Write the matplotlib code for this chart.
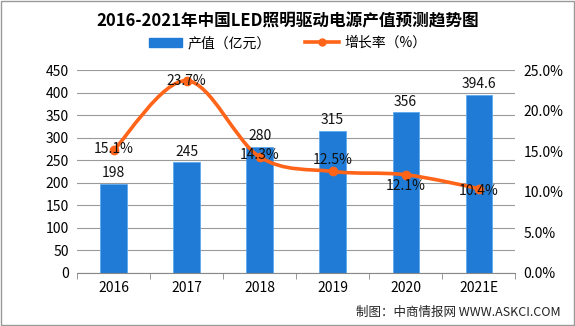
import numpy as np
import matplotlib.pyplot as plt
from matplotlib.path import Path
from matplotlib.patches import PathPatch, Rectangle
from matplotlib.lines import Line2D
from matplotlib.patches import Patch
from matplotlib.ticker import FuncFormatter

plt.rcParams['font.family'] = ['Noto Sans CJK SC', 'DejaVu Sans']

years = ['2016', '2017', '2018', '2019', '2020', '2021E']
output = [198, 245, 280, 315, 356, 394.6]
growth = [15.1, 23.7, 14.3, 12.5, 12.1, 10.4]

bar_color = '#1F7BD6'
line_color = '#FF6419'

fig = plt.figure(figsize=(5.75, 3.26), dpi=100)
ax = fig.add_axes([0.134, 0.163, 0.762, 0.622])
ax2 = ax.twinx()

x = np.arange(len(years))
ax.bar(x, output, width=0.36, color=bar_color, edgecolor='#5DA9F0', linewidth=0.6, zorder=2)
for xi, v in zip(x, output):
    ax.text(xi, v + 8, f'{v:g}', ha='center', va='bottom', fontsize=10, color='#111111', zorder=5)

ax.set_xlim(-0.5, len(years) - 0.5)
ax.set_ylim(0, 450)
ax.set_yticks(range(0, 451, 50))
ax.grid(axis='y', color='#9A9A9A', linewidth=0.8, zorder=0)
ax.set_axisbelow(True)
ax.set_xticks(x)
ax.set_xticklabels(years)
ax.set_xticks(np.arange(-0.5, len(years), 1), minor=True)
ax.tick_params(axis='x', which='major', length=0, pad=6, labelsize=10)
ax.tick_params(axis='x', which='minor', length=4, color='#888888')
ax.tick_params(axis='y', length=0, labelsize=10, pad=6)
for s in ['top', 'right', 'left']:
    ax.spines[s].set_visible(False)
ax.spines['bottom'].set_color('#888888')

# smoothed line through the growth points (Catmull-Rom as Bezier segments)
pts = np.column_stack([x, growth]).astype(float)
verts = [pts[0]]
codes = [Path.MOVETO]
n = len(pts)
for i in range(n - 1):
    p0 = pts[i - 1] if i > 0 else pts[i]
    p1 = pts[i]
    p2 = pts[i + 1]
    p3 = pts[i + 2] if i + 2 < n else pts[i + 1]
    c1 = p1 + (p2 - p0) / 6.0
    c2 = p2 - (p3 - p1) / 6.0
    verts += [c1, c2, p2]
    codes += [Path.CURVE4] * 3
ax2.add_patch(PathPatch(Path(verts, codes), facecolor='none', edgecolor=line_color, linewidth=2.6, zorder=3))
ax2.plot(x, growth, 'o', color=line_color, markersize=6, zorder=4)

ax2.set_ylim(0, 25)
ax2.set_yticks(range(0, 26, 5))
ax2.yaxis.set_major_formatter(FuncFormatter(lambda v, p: f'{v:.1f}%'))
ax2.tick_params(axis='y', length=0, labelsize=10, pad=6)
for s in ['top', 'right', 'left', 'bottom']:
    ax2.spines[s].set_visible(False)

offsets = [0.2, 0.0, 0.2, 1.4, -1.4, -0.3]
for xi, g, o in zip(x, growth, offsets):
    ax2.text(xi, g + o, f'{g:.1f}%', ha='center', va='center', fontsize=10, color='#111111', zorder=5)

fig.text(0.5, 0.935, '2016-2021年中国LED照明驱动电源产值预测趋势图', ha='center', va='center',
         fontsize=12, fontweight='bold')

handles = [Patch(facecolor=bar_color, edgecolor=bar_color),
           Line2D([0], [0], color=line_color, linewidth=2.6, marker='o', markersize=5)]
fig.legend(handles, ['产值（亿元）', '增长率（%）'], loc='center', bbox_to_anchor=(0.5, 0.868),
           ncol=2, frameon=False, fontsize=10, handlelength=2.4, handleheight=0.6,
           columnspacing=2.5, handletextpad=0.4)

fig.text(0.975, 0.042, '制图：中商情报网 WWW.ASKCI.COM', ha='right', va='center', fontsize=9, color='#222222')

fig.add_artist(Rectangle((0.002, 0.003), 0.996, 0.994, transform=fig.transFigure,
                         fill=False, edgecolor='#999999', linewidth=1))

fig.savefig('out.png', dpi=100)
